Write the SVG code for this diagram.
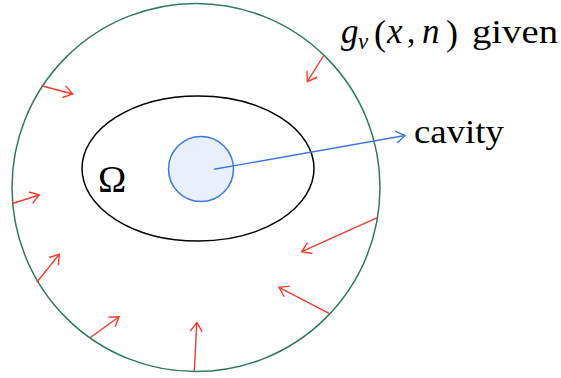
<svg xmlns="http://www.w3.org/2000/svg" width="561" height="378" viewBox="0 0 561 378">
<style>
  .txt { font-family: "Liberation Serif", "Times New Roman", serif; fill: #000; }
  .it { font-style: italic; }
  .red { stroke: #ee3b2c; stroke-width: 1.4; fill: none; }
  .blue { stroke: #3a78e6; stroke-width: 1.4; fill: none; }
</style>
<defs>
  <marker id="hred" viewBox="-10 -7 12 14" markerWidth="12" markerHeight="14" refX="0" refY="0" orient="auto" markerUnits="userSpaceOnUse">
    <path d="M-9,-6 L0,0 L-9,6" fill="none" stroke="#ee3b2c" stroke-width="1.4"/>
  </marker>
  <marker id="hblue" viewBox="-10 -7 12 14" markerWidth="12" markerHeight="14" refX="0" refY="0" orient="auto" markerUnits="userSpaceOnUse">
    <path d="M-9,-6 L0,0 L-9,6" fill="none" stroke="#3a78e6" stroke-width="1.4"/>
  </marker>
</defs>
<rect width="561" height="378" fill="#fff"/>
<g id="boundary">
  <circle cx="196" cy="187.5" r="184" fill="none" stroke="#2f7a5c" stroke-width="1.5"/>
</g>
<g id="omega">
  <ellipse cx="198" cy="168.5" rx="116" ry="72.5" fill="none" stroke="#000" stroke-width="1.5"/>
  <text class="txt" x="98" y="192" font-size="38">Ω</text>
</g>
<g id="cavity">
  <circle cx="201" cy="169" r="32.5" fill="#e8f0fc" stroke="#3a78e6" stroke-width="1.5"/>
</g>
<g id="connectors">
  <line class="blue" x1="214" y1="169.3" x2="405" y2="135.5" marker-end="url(#hblue)"/>
  <line class="red" x1="41.5" y1="85.7" x2="72.7" y2="94" marker-end="url(#hred)"/>
  <line class="red" x1="12.3" y1="203.5" x2="39.3" y2="195" marker-end="url(#hred)"/>
  <line class="red" x1="36.7" y1="282.3" x2="59.3" y2="254.3" marker-end="url(#hred)"/>
  <line class="red" x1="90" y1="337.7" x2="119" y2="316.7" marker-end="url(#hred)"/>
  <line class="red" x1="194.3" y1="371" x2="196.8" y2="322.5" marker-end="url(#hred)"/>
  <line class="red" x1="377.3" y1="217.7" x2="301.7" y2="251.7" marker-end="url(#hred)"/>
  <line class="red" x1="329" y1="313.3" x2="279" y2="287.3" marker-end="url(#hred)"/>
  <line class="red" x1="324" y1="55" x2="307.3" y2="81.7" marker-end="url(#hred)"/>
</g>
<g id="label-cavity">
  <text class="txt" x="414" y="142.5" font-size="33" textLength="90" lengthAdjust="spacingAndGlyphs">cavity</text>
</g>
<g id="label-given">
  <text class="txt it" x="341" y="43" font-size="35">g</text>
  <text class="txt it" x="358" y="49" font-size="23">ν</text>
  <text class="txt" x="374" y="45" font-size="36">(</text>
  <text class="txt it" x="387" y="43" font-size="35">x</text>
  <text class="txt" x="407" y="43" font-size="33">,</text>
  <text class="txt it" x="422" y="43" font-size="35">n</text>
  <text class="txt" x="446" y="45" font-size="36">)</text>
  <text class="txt" x="472" y="43" font-size="33" textLength="86" lengthAdjust="spacingAndGlyphs">given</text>
</g>
</svg>
